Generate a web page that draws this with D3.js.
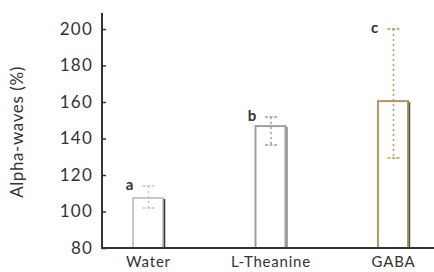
<!DOCTYPE html>
<html>
<head>
<meta charset="utf-8">
<script src="https://cdn.jsdelivr.net/npm/d3@7"></script>
<style>
  body { margin: 0; background: #fff; }
  text { font-family: Lato, "Open Sans", sans-serif; fill: #333; }
</style>
</head>
<body>
<div class="grafico"></div>
<script>
// datos
var categorias = ["Water", "L-Theanine", "GABA"];
var valores = [107.4, 146.8, 160.5];
var errorArriba = [114, 151.8, 200];
var errorAbajo = [101.9, 136.4, 129.3];
var letras = ["a", "b", "c"];
var colores = ["#c8c8c8", "#a0a0a0", "#b49a5a"];
var sombras = ["#333", "#888", "#555"];
var yTicks = [80, 100, 120, 140, 160, 180, 200];

var width = 434, height = 272;
var margin = { top: 13, left: 102 };
var anchoBarra = 31;

var svg = d3.select(".grafico").append("svg")
  .attr("width", width)
  .attr("height", height);

var x = d3.scalePoint().domain(categorias).range([148.5, 393.5]);
var y = d3.scaleLinear().domain([80, 200]).range([248, 29]);

// barras
var barras = svg.selectAll(".bar").data(categorias).enter().append("g");
barras.append("rect")
  .attr("x", d => x(d) - anchoBarra / 2)
  .attr("y", (d, i) => y(valores[i]))
  .attr("width", anchoBarra - 1)
  .attr("height", (d, i) => y(80) - y(valores[i]))
  .attr("fill", "#fff")
  .attr("stroke", (d, i) => colores[i])
  .attr("stroke-width", 2);
// sombra derecha
barras.append("line")
  .attr("x1", d => x(d) + anchoBarra / 2 + 0.5)
  .attr("x2", d => x(d) + anchoBarra / 2 + 0.5)
  .attr("y1", (d, i) => y(valores[i]) + 1)
  .attr("y2", y(80))
  .attr("stroke", (d, i) => sombras[i])
  .attr("stroke-width", 1.5);

// barras de error
barras.append("line")
  .attr("x1", x).attr("x2", x)
  .attr("y1", (d, i) => y(errorArriba[i]))
  .attr("y2", (d, i) => y(errorAbajo[i]))
  .attr("stroke", (d, i) => colores[i])
  .attr("stroke-width", 1.5)
  .attr("stroke-dasharray", "2,3");
[errorArriba, errorAbajo].forEach(arr => {
  barras.append("line")
    .attr("x1", d => x(d) - 6).attr("x2", d => x(d) + 6)
    .attr("y1", (d, i) => y(arr[i])).attr("y2", (d, i) => y(arr[i]))
    .attr("stroke", (d, i) => colores[i])
    .attr("stroke-width", 1.5)
    .attr("stroke-dasharray", "3,1.5");
});

// letras
barras.append("text")
  .attr("x", d => x(d) - 19)
  .attr("y", (d, i) => y(errorArriba[i]) + 4)
  .attr("text-anchor", "middle")
  .attr("font-size", 15)
  .attr("font-weight", "bold")
  .text((d, i) => letras[i]);

// ejes
var ejeY = svg.append("g")
  .attr("transform", "translate(" + margin.left + ",0)")
  .call(d3.axisLeft(y).tickValues(yTicks).tickSize(-4).tickPadding(9).tickSizeOuter(0));
ejeY.select(".domain").remove();
ejeY.selectAll("line").attr("stroke", "#333").attr("stroke-width", 1.5);
ejeY.selectAll("text")
  .attr("font-size", 17)
  .attr("letter-spacing", "1.2px")
  .style("fill", "#333")
  .attr("font-family", "Lato, sans-serif");
svg.append("line")
  .attr("x1", margin.left).attr("x2", margin.left)
  .attr("y1", margin.top).attr("y2", y(80) + 1)
  .attr("stroke", "#333").attr("stroke-width", 2);
svg.append("line")
  .attr("x1", margin.left - 1).attr("x2", width)
  .attr("y1", y(80)).attr("y2", y(80))
  .attr("stroke", "#333").attr("stroke-width", 2);

// etiquetas x
svg.selectAll(".xlab").data(categorias).enter().append("text")
  .attr("x", x)
  .attr("y", 267)
  .attr("text-anchor", "middle")
  .attr("font-size", 15)
  .attr("letter-spacing", "0.8px")
  .text(d => d);

svg.append("text")
  .attr("transform", "translate(23,132) rotate(-90)")
  .attr("text-anchor", "middle")
  .attr("font-size", 17)
  .attr("letter-spacing", "0.6px")
  .text("Alpha-waves (%)");
</script>
</body>
</html>
